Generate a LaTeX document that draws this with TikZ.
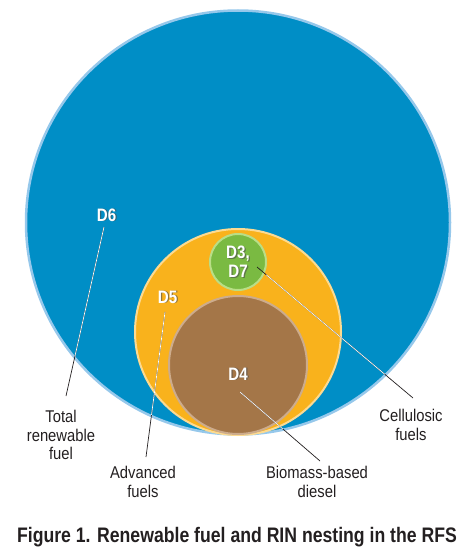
\documentclass[tikz,border=0pt]{standalone}
\usepackage{fontspec}
\usetikzlibrary{calc}
\newfontfamily\condfont{Liberation Sans}[FakeStretch=0.87]
\newfontfamily\dlabfont{Liberation Sans}[FakeStretch=0.84]
\newfontfamily\titfont{Liberation Sans}[FakeStretch=0.84]
\definecolor{bigblue}{RGB}{0,142,198}
\definecolor{rimblue}{RGB}{150,200,235}
\definecolor{orangefill}{RGB}{249,178,28}
\definecolor{rimorange}{RGB}{252,218,145}
\definecolor{brownfill}{RGB}{164,118,72}
\definecolor{rimbrown}{RGB}{205,172,140}
\definecolor{greenfill}{RGB}{122,186,66}
\definecolor{rimgreen}{RGB}{185,222,135}
\definecolor{txtdark}{RGB}{35,31,32}
\tikzset{
  lbl/.style={font=\condfont\fontsize{17}{18.5}\selectfont, align=center, text=txtdark, inner sep=0pt},
  dlab/.style={font=\dlabfont\bfseries\fontsize{18}{19}\selectfont, align=center, text=white, inner sep=0pt},
  dshadow/.style={font=\dlabfont\bfseries\fontsize{18}{19}\selectfont, align=center, text=black!70, opacity=0.6, inner sep=0pt},
  leader/.style={draw=txtdark, line width=0.7pt},
  leaderin/.style={draw=white, line width=0.7pt},
}
\begin{document}
\begin{tikzpicture}[x=1pt,y=-1pt]
\useasboundingbox (0,0) rectangle (474,556);
% circles
\fill[bigblue, draw=rimblue, line width=2.5pt] (238,222.5) circle (212pt);
\fill[orangefill, draw=rimorange, line width=2pt] (238,332) circle (103pt);
\fill[brownfill, draw=rimbrown, line width=2pt] (238,365) circle (69pt);
\fill[greenfill, draw=rimgreen, line width=2pt] (238,262) circle (28pt);

% label nodes
\node[lbl] (total) at (61,435) {Total\\renewable\\fuel};
\node[lbl] (adv) at (143,482) {Advanced\\fuels};
\node[lbl] (bio) at (317,482) {Biomass-based\\diesel};
\node[lbl] (cell) at (411,425) {Cellulosic\\fuels};

% leader end points
\coordinate (d6s) at (104,227);
\coordinate (d6e) at (66,396);
\coordinate (d5s) at (165,312);
\coordinate (d5e) at (146,457);
\coordinate (d3s) at (257,267);
\coordinate (d3e) at (413,398);
\coordinate (d4s) at (240,392);
\coordinate (d4e) at (320,461);

\draw[leader] (d6s) -- (d6e);
\draw[leader] (d5s) -- (d5e);
\draw[leader] (d3s) -- (d3e);
\draw[leader] (d4s) -- (d4e);
\begin{scope}
  \clip (238,222.5) circle (211pt);
  \draw[leaderin] (d6s) -- (d6e);
  \draw[leaderin] (d5s) -- (d5e);
  \draw[leaderin] ($(d3s)!0.06!(d3e)$) -- (d3e);
  \draw[leaderin] (d4s) -- (d4e);
\end{scope}

% D labels with shadow
\node[dshadow] at (107.8,215.8) {D6};
\node[dlab] (d6) at (106.5,215) {D6};
\node[dshadow] at (168.8,297.8) {D5};
\node[dlab] (d5) at (167.5,297) {D5};
\node[dshadow] at (239.3,262.8) {D3,\\D7};
\node[dlab] (d37) at (238,262) {D3,\\D7};
\node[dshadow] at (239.3,374.8) {D4};
\node[dlab] (d4) at (238,374) {D4};

% title
\node[font=\titfont\bfseries\fontsize{21}{23}\selectfont, text=txtdark, inner sep=0pt, anchor=base] (title) at (237,542) {Figure 1. Renewable fuel and RIN nesting in the RFS};
\end{tikzpicture}
\end{document}
